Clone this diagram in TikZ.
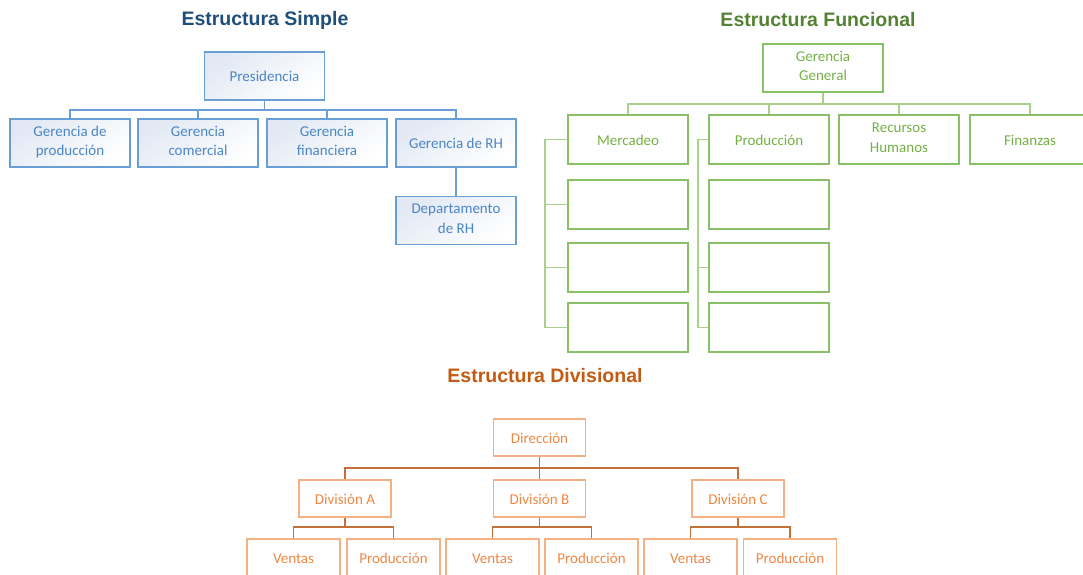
\documentclass[tikz,border=0pt]{standalone}
\usepackage{fontspec}
\setmainfont{Carlito}
\newfontfamily\titlefont{Liberation Sans}
\usetikzlibrary{calc}

\definecolor{sTitle}{HTML}{1F4E79}
\definecolor{sLine}{HTML}{6A9FD6}
\definecolor{sText}{HTML}{4A86C5}
\definecolor{sFill}{HTML}{E2E9F4}
\definecolor{fTitle}{HTML}{548235}
\definecolor{fLine}{HTML}{88BF67}
\definecolor{fConn}{HTML}{A9D18E}
\definecolor{fText}{HTML}{74B043}
\definecolor{dTitle}{HTML}{C55A11}
\definecolor{dLine}{HTML}{F4B183}
\definecolor{dConn}{HTML}{C4703A}
\definecolor{dText}{HTML}{EE8743}

% invisible rule giving every text line the same height and depth
\newcommand{\linestrut}{\rule[-4pt]{0pt}{19pt}}

\tikzset{
  chart title/.style={font=\titlefont\bfseries\fontsize{19.5}{23}\selectfont},
  boxtext/.style={font=\fontsize{15}{19.5}\selectfont, align=center, inner sep=0pt,
    execute at begin node={\linestrut}, execute at end node={\linestrut}},
  sbox/.style={boxtext, draw=sLine, line width=1.4pt, text=sText,
    top color=sFill, bottom color=white, shading angle=35,
    minimum width=120pt, minimum height=48pt},
  fbox/.style={boxtext, draw=fLine, line width=1.4pt, text=fText,
    minimum width=120pt, minimum height=48pt},
  dbox/.style={boxtext, draw=dLine, line width=1.4pt, text=dText,
    minimum width=92pt, minimum height=37pt},
  sconn/.style={draw=sLine, line width=1.5pt},
  fconn/.style={draw=fConn, line width=1.5pt},
  dconn/.style={draw=dConn, line width=1.1pt},
}

\begin{document}
\begin{tikzpicture}[x=1pt, y=-1pt]
\useasboundingbox (0,0) rectangle (1083,574);

% ---------- Estructura Simple ----------
\node[chart title, text=sTitle] (stitle) at (265,20) {Estructura Simple};
\node[sbox] (pres) at (264.5,76) {Presidencia};
\node[sbox] (g1) at (70,143) {Gerencia de\\producción};
\node[sbox] (g2) at (198,143) {Gerencia\\comercial};
\node[sbox] (g3) at (327,143) {Gerencia\\financiera};
\node[sbox] (g4) at (456,143) {Gerencia de RH};
\node[sbox] (dep) at (456,220.5) {Departamento\\de RH};
\coordinate (sbus) at (0,110);
\draw[sconn] (pres.south) -- (pres.south |- sbus);
\foreach \n in {g1,g2,g3,g4}
  \draw[sconn] (\n.north) |- (pres.south |- sbus);
\draw[sconn] (g4.south) -- (dep.north);

% ---------- Estructura Funcional ----------
\node[chart title, text=fTitle] (ftitle) at (818,20) {Estructura Funcional};
\node[fbox] (gg) at (823,68) {Gerencia\\General};
\node[fbox, minimum height=49pt] (mer) at (628,139.5) {Mercadeo};
\node[fbox, minimum height=49pt] (pro) at (769,139.5) {Producción};
\node[fbox, minimum height=49pt] (rh) at (899,139.5) {Recursos\\Humanos};
\node[fbox, minimum height=49pt] (fin) at (1030,139.5) {Finanzas};
\node[fbox, minimum height=49pt] (m1) at (628,204.5) {};
\node[fbox, minimum height=49pt] (m2) at (628,267.5) {};
\node[fbox, minimum height=49pt] (m3) at (628,327.5) {};
\node[fbox, minimum height=49pt] (p1) at (769,204.5) {};
\node[fbox, minimum height=49pt] (p2) at (769,267.5) {};
\node[fbox, minimum height=49pt] (p3) at (769,327.5) {};
\coordinate (fbus) at (0,104);
\coordinate (mbar) at (545,0);
\coordinate (pbar) at (698,0);
\draw[fconn] (gg.south) -- (gg.south |- fbus);
\foreach \n in {mer,pro,rh,fin}
  \draw[fconn] (\n.north) |- (gg.south |- fbus);
\draw[fconn] (mer.west) -- (mer.west -| mbar) -- (m3.west -| mbar) -- (m3.west);
\draw[fconn] (m1.west -| mbar) -- (m1.west);
\draw[fconn] (m2.west -| mbar) -- (m2.west);
\draw[fconn] (pro.west) -- (pro.west -| pbar) -- (p3.west -| pbar) -- (p3.west);
\draw[fconn] ($(p1.north west)+(0,7)$ -| pbar) -- ($(p1.north west)+(0,7)$);
\draw[fconn] (p2.west -| pbar) -- (p2.west);

% ---------- Estructura Divisional ----------
\node[chart title, text=dTitle] (dtitle) at (545,376) {Estructura Divisional};
\node[dbox] (dir) at (539.5,437.5) {Dirección};
\node[dbox] (da) at (345,498.5) {División A};
\node[dbox] (db) at (539.5,498.5) {División B};
\node[dbox] (dc) at (738,498.5) {División C};
\node[dbox, minimum width=93pt, minimum height=38pt] (va) at (293.5,558) {Ventas};
\node[dbox, minimum width=93pt, minimum height=38pt] (pa) at (393.5,558) {Producción};
\node[dbox, minimum width=93pt, minimum height=38pt] (vb) at (492.5,558) {Ventas};
\node[dbox, minimum width=93pt, minimum height=38pt] (pb) at (591.5,558) {Producción};
\node[dbox, minimum width=93pt, minimum height=38pt] (vc) at (690.5,558) {Ventas};
\node[dbox, minimum width=93pt, minimum height=38pt] (pc) at (790,558) {Producción};
\coordinate (dbus) at (0,468);
\coordinate (dsub) at (0,527);
\draw[dconn] (dir.south) -- (dir.south |- dbus);
\foreach \n in {da,db,dc}
  \draw[dconn] (\n.north) |- (dir.south |- dbus);
\foreach \d/\v/\p in {da/va/pa, db/vb/pb, dc/vc/pc} {
  \draw[dconn] (\d.south) -- (\d.south |- dsub);
  \draw[dconn] (\v.north) |- (\d.south |- dsub);
  \draw[dconn] (\p.north) |- (\d.south |- dsub);
}
\end{tikzpicture}
\end{document}
